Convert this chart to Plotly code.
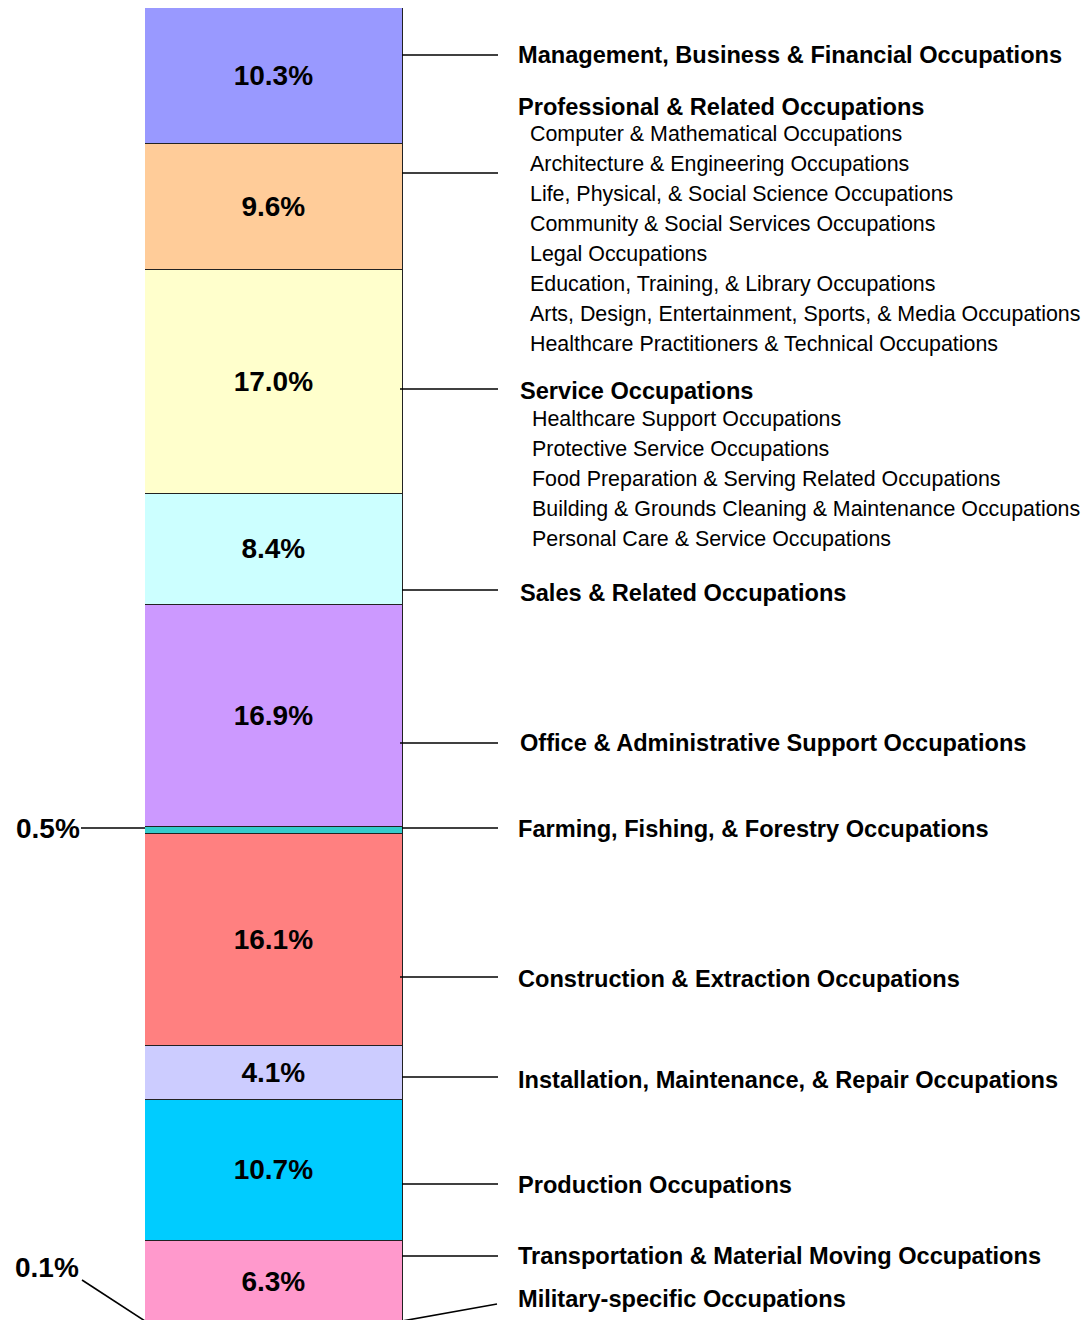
import plotly.graph_objects as go

# ---- data (top to bottom) ----
categories = [
    "Management, Business & Financial Occupations",
    "Professional & Related Occupations",
    "Service Occupations",
    "Sales & Related Occupations",
    "Office & Administrative Support Occupations",
    "Farming, Fishing, & Forestry Occupations",
    "Construction & Extraction Occupations",
    "Installation, Maintenance, & Repair Occupations",
    "Production Occupations",
    "Transportation & Material Moving Occupations",
    "Military-specific Occupations",
]
shares = [10.3, 9.6, 17.0, 8.4, 16.9, 0.5, 16.1, 4.1, 10.7, 6.3, 0.1]
colors = ["#9999FF", "#FFCC99", "#FFFFCC", "#CCFFFF", "#CC99FF", "#33CCCC",
          "#FF8080", "#CCCCFF", "#00CCFF", "#FF99CC", "#3366CC"]
inside_label = [True, True, True, True, True, False, True, True, True, True, False]

professional_sub = [
    "Computer & Mathematical Occupations",
    "Architecture & Engineering Occupations",
    "Life, Physical, & Social Science Occupations",
    "Community & Social Services Occupations",
    "Legal Occupations",
    "Education, Training, & Library Occupations",
    "Arts, Design, Entertainment, Sports, & Media Occupations",
    "Healthcare Practitioners & Technical Occupations",
]
service_sub = [
    "Healthcare Support Occupations",
    "Protective Service Occupations",
    "Food Preparation & Serving Related Occupations",
    "Building & Grounds Cleaning & Maintenance Occupations",
    "Personal Care & Service Occupations",
]

# ---- layout helpers (page pixel -> paper); page body has 8px margin ----
OFF = 8
W, H = 1089 - OFF, 1320 - OFF
def px_x(px):
    return (px - OFF) / W
def px_y(py):
    return (OFF + H - py) / H

FONT = "Arial, Liberation Sans, sans-serif"
PCT = 28
HEAD = 23.6
SUB = 21.4

fig = go.Figure()
# stack bottom-up: add in reverse order
for name, v, c, show in reversed(list(zip(categories, shares, colors, inside_label))):
    fig.add_trace(go.Bar(
        x=[0], y=[v], name=name, width=1,
        marker=dict(color=c, line=dict(color="#222222", width=1.2)),
        text=[f"<b>{v:.1f}%</b>" if show else ""],
        textposition="inside", insidetextanchor="middle",
        textfont=dict(family=FONT, size=PCT, color="black"),
        hoverinfo="name+y", showlegend=False,
    ))

# ---- right-side labels & leader lines (positions are layout) ----
header_pos = [55, 107, 391, 593, 743, 829, 979, 1080, 1185, 1256, 1299]
header_x = [516, 516, 518, 518, 518, 516, 516, 516, 516, 516, 516]
leader_y = [55, 173, 389, 590, 743, 828, 977, 1077, 1184, 1256, None]
leader_x0 = [402, 402, 400, 402, 400, 402, 400, 402, 402, 402, 402]

annotations = []
shapes = []
for name, yp, xp in zip(categories, header_pos, header_x):
    annotations.append(dict(
        text=f"<b>{name}</b>", x=px_x(xp), y=px_y(yp), xref="paper", yref="paper",
        xanchor="left", yanchor="middle", showarrow=False,
        font=dict(family=FONT, size=HEAD, color="black")))
for i, s in enumerate(professional_sub):
    annotations.append(dict(
        text=s, x=px_x(528), y=px_y(134 + i * 30), xref="paper", yref="paper",
        xanchor="left", yanchor="middle", showarrow=False,
        font=dict(family=FONT, size=SUB, color="black")))
for i, s in enumerate(service_sub):
    annotations.append(dict(
        text=s, x=px_x(530), y=px_y(419 + i * 30), xref="paper", yref="paper",
        xanchor="left", yanchor="middle", showarrow=False,
        font=dict(family=FONT, size=SUB, color="black")))

line_style = dict(color="black", width=1.6)
for ly, lx0 in zip(leader_y, leader_x0):
    if ly is None:
        continue
    shapes.append(dict(type="line", xref="paper", yref="paper",
                       x0=px_x(lx0), x1=px_x(498), y0=px_y(ly), y1=px_y(ly), line=line_style))
# military (slanted) right leader
shapes.append(dict(type="line", xref="paper", yref="paper",
                   x0=px_x(402), x1=px_x(497), y0=px_y(1321), y1=px_y(1304), line=line_style))

# ---- left-side small-value labels ----
annotations.append(dict(text=f"<b>{shares[5]:.1f}%</b>", x=px_x(82), y=px_y(828),
                        xref="paper", yref="paper", xanchor="right", yanchor="middle",
                        showarrow=False, font=dict(family=FONT, size=PCT, color="black")))
annotations.append(dict(text=f"<b>{shares[10]:.1f}%</b>", x=px_x(81), y=px_y(1267),
                        xref="paper", yref="paper", xanchor="right", yanchor="middle",
                        showarrow=False, font=dict(family=FONT, size=PCT, color="black")))
shapes.append(dict(type="line", xref="paper", yref="paper",
                   x0=px_x(81), x1=px_x(145), y0=px_y(828), y1=px_y(828), line=line_style))
shapes.append(dict(type="line", xref="paper", yref="paper",
                   x0=px_x(82), x1=px_x(145), y0=px_y(1280), y1=px_y(1321), line=line_style))

fig.update_layout(
    width=W, height=H, barmode="stack", bargap=0,
    margin=dict(l=0, r=0, t=0, b=0),
    paper_bgcolor="white", plot_bgcolor="white",
    xaxis=dict(domain=[px_x(145), px_x(403)], range=[-0.5, 0.5], visible=False, fixedrange=True),
    yaxis=dict(range=[0.38, 100], visible=False, fixedrange=True),
    annotations=annotations, shapes=shapes,
)

fig.write_html("out.html")
